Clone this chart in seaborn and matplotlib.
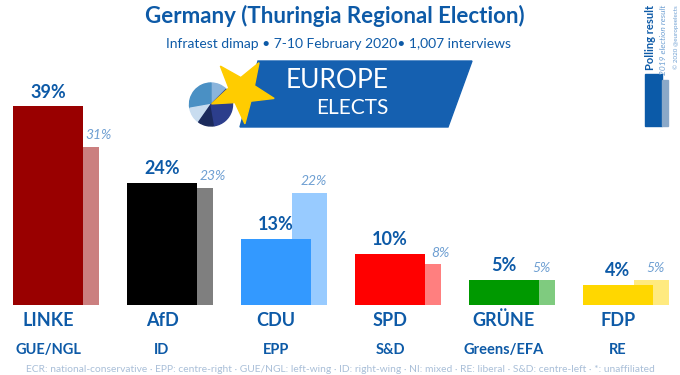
import numpy as np
import matplotlib
matplotlib.use("Agg")
import matplotlib.pyplot as plt
import matplotlib.patches as mpatches
from matplotlib.transforms import Affine2D
import seaborn as sns

# Données
parties = ["LINKE", "AfD", "CDU", "SPD", "GRÜNE", "FDP"]
groups = ["GUE/NGL", "ID", "EPP", "S&D", "Greens/EFA", "RE"]
poll = [39, 24, 13, 10, 5, 4]
prev = [31, 23, 22, 8, 5, 5]
colors = ["#990000", "#000000", "#3399ff", "#ff0000", "#009900", "#ffd700"]

TITLE = "Germany (Thuringia Regional Election)"
SUBTITLE = "Infratest dimap • 7-10 February 2020• 1,007 interviews"
FOOTNOTE = ("ECR: national-conservative · EPP: centre-right · GUE/NGL: left-wing · "
            "ID: right-wing · NI: mixed · RE: liberal · S&D: centre-left · *: unaffiliated")

BLUE = "#0d5aa7"
LIGHT = "#6e9fd2"

W, H = 680, 375


def fx(x):
    return x / W


def fy(y):
    return 1 - y / H


def main():
    sns.set_theme(style="white")
    plt.rcParams["font.family"] = ["Lato", "DejaVu Sans"]

    fig = plt.figure(figsize=(6.8, 3.75), dpi=100)
    fig.patch.set_facecolor("white")
    px = Affine2D().scale(1 / W, -1 / H).translate(0, 1) + fig.transFigure  # pixels depuis le haut

    # zone des barres : base à y=305 px, 5.1 px par point
    ax = fig.add_axes([0, fy(305), 1, 229.5 / H])
    ax.set_facecolor("none")

    sns.barplot(x=parties, y=poll, hue=parties, palette=colors, width=0.614,
                saturation=1, linewidth=0, legend=False, ax=ax, zorder=3)
    x = np.arange(len(parties))
    # résultat 2019 : barre plus étroite, en partie cachée derrière le sondage
    ax.bar(x + 0.14, prev, width=0.307, align="edge", color=colors,
           alpha=0.5, linewidth=0, zorder=2)

    ax.set_xlim(-48 / 114, (W - 48) / 114)
    ax.set_ylim(0, 45)
    ax.axis("off")

    for i in range(len(parties)):
        ax.annotate(f"{poll[i]}%", (x[i], poll[i]), xytext=(0, 4),
                    textcoords="offset points", ha="center", va="bottom",
                    fontsize=13, fontweight="bold", color=BLUE)
        # étiquette 2019 décalée à droite quand la barre du sondage est plus haute
        lx = x[i] + (0.447 if prev[i] < poll[i] else 0.33)
        ax.annotate(f"{prev[i]}%", (lx, prev[i]), xytext=(0, 4),
                    textcoords="offset points", ha="center", va="bottom",
                    fontsize=10, style="italic", color=LIGHT)
        ax.text(x[i], -0.066, parties[i], transform=ax.get_xaxis_transform(),
                ha="center", va="center", fontsize=13, fontweight="bold", color=BLUE)
        ax.text(x[i], -0.196, groups[i], transform=ax.get_xaxis_transform(),
                ha="center", va="center", fontsize=10.5, fontweight="bold", color=BLUE)

    # titres
    fig.text(fx(335), fy(16), TITLE, ha="center", va="center",
             fontsize=16, fontweight="bold", color=BLUE)
    fig.text(fx(338), fy(44), SUBTITLE, ha="center", va="center",
             fontsize=10, color=BLUE)
    fig.text(fx(340), fy(369), FOOTNOTE, ha="center", va="center",
             fontsize=7.4, color="#a9bfd8")

    # logo Europe Elects
    fig.patches.append(mpatches.Polygon([(258, 61), (472, 61), (448, 127), (240, 127)],
                                        closed=True, color="#1560b0", transform=px))
    slices = [(45, 90, "#8ab4dc"), (90, 190, "#4a90c4"), (190, 235, "#c8dcef"),
              (235, 280, "#1b2a5c"), (280, 405, "#2c3e8c")]
    for a0, a1, c in slices:
        # angles inversés car l'axe y des pixels descend
        fig.patches.append(mpatches.Wedge((211, 104.5), 21.5, -a1, -a0, color=c,
                                          transform=px))
    # étoile
    cx, cy, R, r = 242, 91, 33, 13.5
    pts = []
    for k in range(10):
        ang = np.deg2rad(59 + k * 36)
        rad = R if k % 2 == 0 else r
        pts.append((cx + rad * np.cos(ang), cy - rad * np.sin(ang)))
    fig.patches.append(mpatches.Polygon(pts, closed=True, color="#ffcc00", transform=px))
    fig.text(fx(337), fy(80), "EUROPE", ha="center", va="center",
             fontsize=19, color="white")
    fig.text(fx(352), fy(108), "ELECTS", ha="center", va="center",
             fontsize=15, color="white")

    # légende verticale en haut à droite
    fig.text(fx(651), fy(5), "Polling result", rotation=90, ha="center", va="top",
             fontsize=8, fontweight="bold", color=BLUE)
    fig.text(fx(663), fy(5), "2019 election result", rotation=90, ha="center", va="top",
             fontsize=6, style="italic", color=LIGHT)
    fig.text(fx(676), fy(5), "© 2020 @europeelects", rotation=90, ha="center", va="top",
             fontsize=4.5, color=LIGHT)
    fig.patches.append(mpatches.Rectangle((645, 74), 17, 52, color="#0b5aa8", transform=px))
    fig.patches.append(mpatches.Rectangle((662, 80), 6, 46, color="#8aa8c8", transform=px))

    fig.savefig("out.png", dpi=100)
    plt.close(fig)


if __name__ == "__main__":
    main()
